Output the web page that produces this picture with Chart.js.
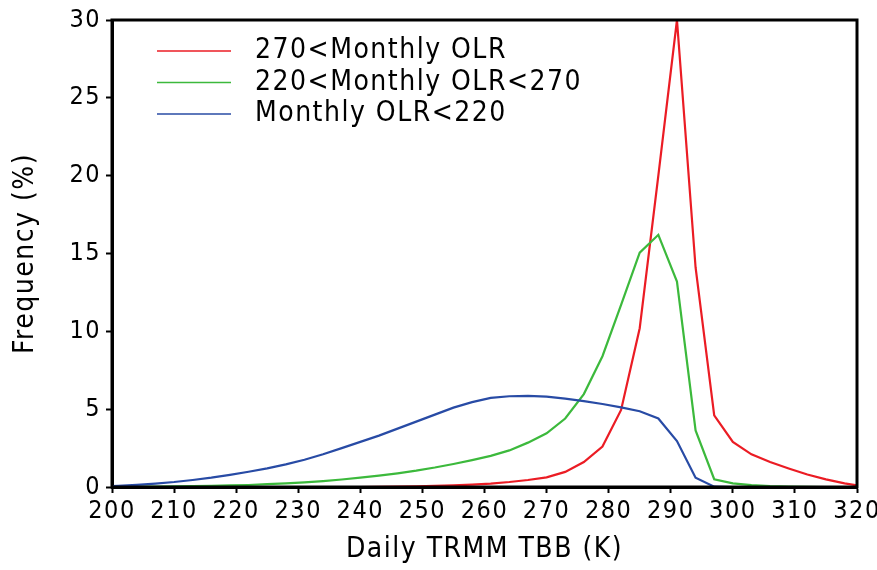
<!DOCTYPE html>
<html>
<head>
<meta charset="utf-8">
<script src="https://cdn.jsdelivr.net/npm/chart.js@4.4.1/dist/chart.umd.min.js"></script>
<style>
  html, body { margin: 0; padding: 0; background: #fff; }
  #wrap { width: 877px; height: 570px; }
</style>
</head>
<body>
<div id="wrap"><canvas id="my-canvas" width="877" height="570"></canvas></div>
<script>
// TBB bins (K)
const tbb = [198, 201, 204, 207, 210, 213, 216, 219, 222, 225, 228, 231, 234, 237, 240,
  243, 246, 249, 252, 255, 258, 261, 264, 267, 270, 273, 276, 279, 282, 285, 288,
  291, 294, 297, 300, 303, 306, 309, 312, 315, 318, 321];

// frequency (%) for each monthly OLR regime
const highOLR = [0, 0, 0, 0, 0, 0, 0, 0, 0, 0, 0, 0, 0, 0, 0,
  0.01, 0.02, 0.04, 0.07, 0.1, 0.15, 0.22, 0.32, 0.45, 0.62, 0.97, 1.6, 2.6, 4.95, 10.2, 20.0,
  30.0, 14.1, 4.6, 2.9, 2.1, 1.6, 1.19, 0.8, 0.49, 0.23, 0.05];
const midOLR = [0, 0.01, 0.02, 0.03, 0.04, 0.06, 0.08, 0.1, 0.13, 0.18, 0.23, 0.3, 0.38, 0.48, 0.6,
  0.73, 0.88, 1.05, 1.25, 1.48, 1.73, 2.0, 2.35, 2.85, 3.45, 4.4, 5.97, 8.4, 11.7, 15.05, 16.2,
  13.2, 3.63, 0.5, 0.23, 0.12, 0.06, 0.03, 0.01, 0, 0, 0];
const lowOLR = [0.03, 0.08, 0.14, 0.22, 0.32, 0.45, 0.6, 0.78, 0.98, 1.2, 1.45, 1.75, 2.1, 2.5, 2.9,
  3.3, 3.75, 4.2, 4.65, 5.1, 5.45, 5.72, 5.83, 5.85, 5.8, 5.68, 5.52, 5.33, 5.12, 4.87, 4.4,
  2.95, 0.6, 0.02, 0, 0, 0, 0, 0, 0, 0, 0];

const seriesNames = ['270<Monthly OLR', '220<Monthly OLR<270', 'Monthly OLR<220'];
const seriesColors = ['rgb(235,28,36)', 'rgb(60,185,60)', 'rgb(40,75,165)'];
const xTicks = [200, 210, 220, 230, 240, 250, 260, 270, 280, 290, 300, 310, 320];
const yTicks = [0, 5, 10, 15, 20, 25, 30];

const FONT = '"Liberation Sans Narrow", "DejaVu Sans Condensed", "Liberation Sans", sans-serif';

function toPoints(vals) {
  return vals.map((v, i) => ({ x: tbb[i], y: v }));
}

// spaced-out lettering like the original plot
const spacing = {
  id: 'spacing',
  beforeLayout(chart) { chart.ctx.letterSpacing = '1.5px'; },
  beforeDraw(chart) { chart.ctx.letterSpacing = '1.5px'; }
};

// frame + legend inside the plot
const frameAndLegend = {
  id: 'frameAndLegend',
  afterDraw(chart) {
    const { ctx, chartArea: a } = chart;
    ctx.save();
    ctx.strokeStyle = '#000';
    ctx.lineWidth = 3;
    ctx.strokeRect(a.left, a.top, a.right - a.left, a.bottom - a.top);

    ctx.font = '28px ' + FONT;
    ctx.textBaseline = 'middle';
    ctx.fillStyle = '#000';
    seriesNames.forEach((name, i) => {
      const y = a.top + 31 + i * 31.5;
      ctx.strokeStyle = seriesColors[i];
      ctx.lineWidth = 1.5;
      ctx.beginPath();
      ctx.moveTo(a.left + 45, y);
      ctx.lineTo(a.left + 119, y);
      ctx.stroke();
      ctx.fillText(name, a.left + 143, y);
    });
    ctx.restore();
  }
};

const ctx = document.getElementById('my-canvas').getContext('2d');
const chart = new Chart(ctx, {
  type: 'line',
  data: {
    datasets: [
      { label: seriesNames[0], data: toPoints(highOLR), borderColor: seriesColors[0], order: 2 },
      { label: seriesNames[1], data: toPoints(midOLR), borderColor: seriesColors[1], order: 1 },
      { label: seriesNames[2], data: toPoints(lowOLR), borderColor: seriesColors[2], order: 0 }
    ]
  },
  options: {
    responsive: false,
    animation: false,
    layout: { padding: { top: 16, right: 20, left: 0, bottom: 0 } },
    elements: {
      point: { radius: 0 },
      line: { borderWidth: 2.2, tension: 0 }
    },
    plugins: {
      legend: { display: false },
      tooltip: { enabled: false }
    },
    scales: {
      x: {
        type: 'linear',
        min: 200,
        max: 320,
        afterBuildTicks(scale) { scale.ticks = xTicks.map(v => ({ value: v })); },
        afterFit(scale) {
          scale.height = 83;
          scale.paddingRight = 0;
          scale.paddingLeft = 0;
        },
        grid: { drawOnChartArea: false, drawTicks: true, tickLength: 6, tickColor: '#000', tickWidth: 2 },
        border: { display: true, color: '#000', width: 3 },
        ticks: { color: '#000', padding: 3, maxRotation: 0, font: { family: FONT, size: 25 } },
        title: {
          display: true,
          text: 'Daily TRMM TBB (K)',
          color: '#000',
          font: { family: FONT, size: 28 },
          padding: { top: 0, bottom: 3 }
        }
      },
      y: {
        min: 0,
        max: 30,
        afterBuildTicks(scale) { scale.ticks = yTicks.map(v => ({ value: v })); },
        afterFit(scale) { scale.width = 112; },
        grid: { drawOnChartArea: false, drawTicks: true, tickLength: 6, tickColor: '#000', tickWidth: 2 },
        border: { display: true, color: '#000', width: 3 },
        ticks: { color: '#000', padding: 5, font: { family: FONT, size: 25 } },
        title: {
          display: true,
          text: 'Frequency (%)',
          color: '#000',
          font: { family: FONT, size: 28 },
          padding: { top: 9, bottom: 0 }
        }
      }
    }
  },
  plugins: [spacing, frameAndLegend]
});
</script>
</body>
</html>
